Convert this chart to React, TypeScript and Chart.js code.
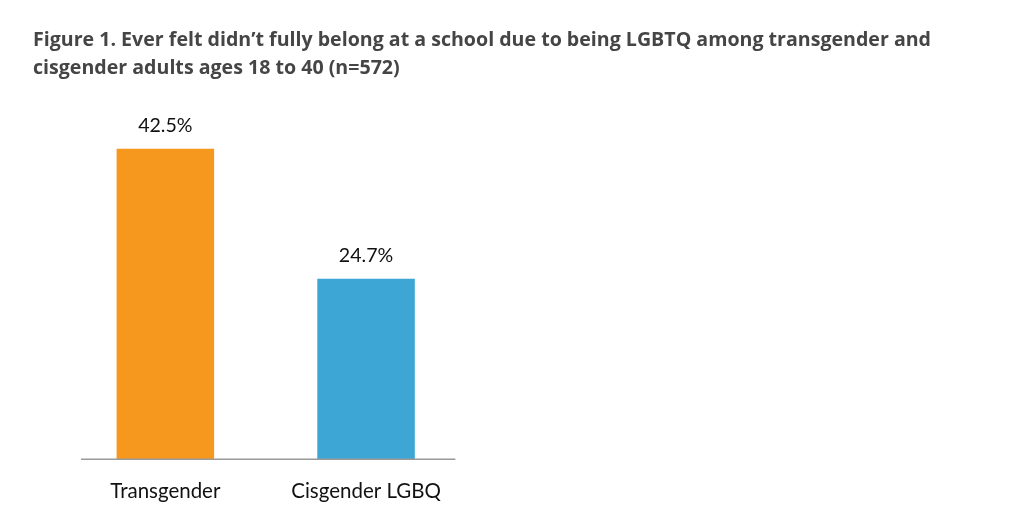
import React, { useEffect, useRef } from "react";
import { Chart, registerables } from "chart.js";

Chart.register(...registerables);

const titleLines = [
  "Figure 1. Ever felt didn\u2019t fully belong at a school due to being LGBTQ among transgender and",
  "cisgender adults ages 18 to 40 (n=572)",
];
const categories = ["Transgender", "Cisgender LGBQ"];
const values = [42.5, 24.7];
const barColors = ["#F7981E", "#3EA6D5"];

const valueLabelPlugin = {
  id: "valueLabels",
  afterDatasetsDraw(chart: any) {
    const { ctx } = chart;
    const meta = chart.getDatasetMeta(0);
    ctx.save();
    ctx.font = "19.6px Lato";
    ctx.fillStyle = "#111111";
    ctx.textAlign = "center";
    ctx.textBaseline = "alphabetic";
    meta.data.forEach((bar: any, i: number) => {
      ctx.fillText(values[i].toFixed(1) + "%", bar.x, bar.y - 16.5);
    });
    ctx.restore();
  },
};

const baselinePlugin = {
  id: "baseline",
  afterDatasetsDraw(chart: any) {
    const { ctx, chartArea, scales } = chart;
    const y = scales.y.getPixelForValue(0);
    ctx.save();
    ctx.strokeStyle = "#9a9a9a";
    ctx.lineWidth = 1.5;
    ctx.beginPath();
    ctx.moveTo(chartArea.left + 16, y);
    ctx.lineTo(chartArea.right - 11, y);
    ctx.stroke();
    ctx.restore();
  },
};

export default function App() {
  const ref = useRef<HTMLCanvasElement>(null);
  useEffect(() => {
    if (!ref.current) return;
    const chart = new Chart(ref.current, {
      type: "bar",
      data: {
        labels: categories,
        datasets: [
          {
            data: values,
            backgroundColor: barColors,
            borderWidth: 0,
            categoryPercentage: 1,
            barPercentage: 0.486,
          },
        ],
      },
      options: {
        responsive: false,
        animation: false,
        layout: { padding: { left: 33, right: 0, top: 0, bottom: 0 } },
        plugins: {
          legend: { display: false },
          tooltip: { enabled: false },
          title: {
            display: true,
            text: titleLines,
            align: "start",
            color: "#454545",
            font: { family: "'Open Sans'", weight: "bold", size: 19.6, lineHeight: 1.43 },
            padding: { top: 26, bottom: 12 },
          },
        },
        scales: {
          x: {
            grid: { display: false, drawTicks: false },
            border: { display: false },
            ticks: {
              color: "#111111",
              font: { family: "Lato", size: 20.5 },
              padding: 20,
              maxRotation: 0,
            },
            afterFit(scale: any) {
              scale.height = 68.7;
            },
          },
          y: {
            min: 0,
            max: 50,
            display: true,
            grid: { display: false, drawTicks: false },
            border: { display: false },
            ticks: { display: false },
            afterFit(scale: any) {
              scale.width = 32;
            },
          },
          yRight: {
            position: "right",
            display: true,
            grid: { display: false, drawTicks: false },
            border: { display: false },
            ticks: { display: false },
            afterFit(scale: any) {
              scale.width = 557.6;
            },
          },
        },
      },
      plugins: [valueLabelPlugin, baselinePlugin],
    });
    return () => chart.destroy();
  }, []);
  return (
    <div style={{ position: "fixed", left: 0, top: 0, width: 1024, height: 528, background: "#fff" }}>
      <canvas ref={ref} width={1024} height={528} />
    </div>
  );
}
